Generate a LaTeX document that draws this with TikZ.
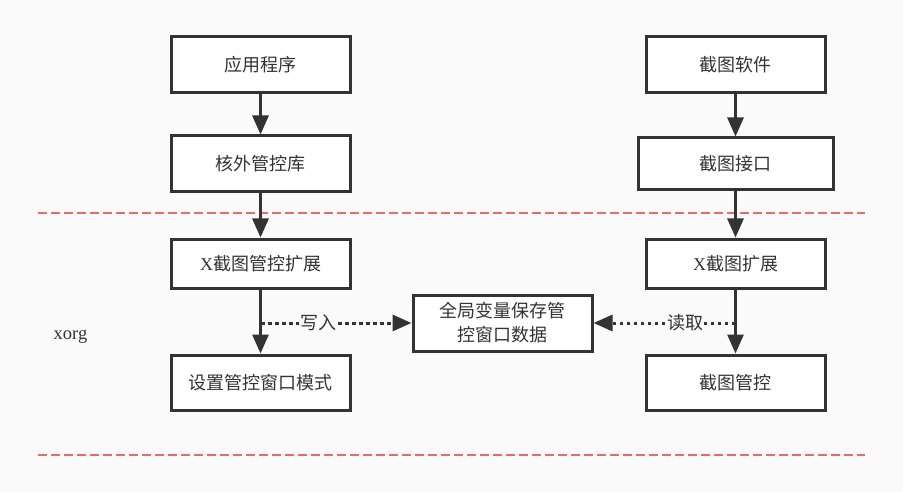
\documentclass[tikz,border=0pt]{standalone}
\usepackage{fontspec}
\setmainfont{Liberation Serif}
\newfontfamily\cjk{Noto Sans CJK SC}
\usetikzlibrary{arrows.meta}
\definecolor{ink}{HTML}{333333}
\definecolor{bg}{HTML}{FAFAFA}
\definecolor{redline}{HTML}{EA6B66}
\tikzset{
  box/.style={draw=ink, line width=3pt, fill=white, inner sep=0pt, anchor=center, font=\fontsize{18}{22}\selectfont\cjk, text=ink, align=center},
  conn/.style={draw=ink, line width=3pt, -{Triangle[length=19pt 0 0,width=16pt 0 0]}},
  dotconn/.style={draw=ink, line width=3pt, dash pattern=on 3.5pt off 3.5pt, -{Triangle[length=19pt 0 0,width=16pt 0 0]}},
  lbl/.style={fill=bg, inner sep=1pt, font=\fontsize{18}{22}\selectfont\cjk, text=ink},
  sep/.style={draw=redline, line width=2.6pt, dash pattern=on 9pt off 4pt},
}
\begin{document}
\begin{tikzpicture}[x=1pt,y=-1pt]
\fill[bg] (0,0) rectangle (903,492);
\useasboundingbox (0,0) rectangle (903,492);
\draw[sep] (38,213) -- (865,213);
\draw[sep] (38,455) -- (865,455);
\node[font=\fontsize{18.5}{22}\selectfont, text=ink] (xorg) at (70.5,337) {xorg};

\node[box, minimum width=179pt, minimum height=56pt] (app) at (260.5,65) {应用程序};
\node[box, minimum width=179pt, minimum height=56pt] (lib) at (260.5,164) {核外管控库};
\node[box, minimum width=179pt, minimum height=49pt] (xext) at (260.5,263.5) {{\fontspec{Liberation Serif}X}截图管控扩展};
\node[box, minimum width=179pt, minimum height=55pt] (mode) at (260.5,382.5) {设置管控窗口模式};

\node[box, minimum width=179pt, minimum height=56pt] (soft) at (735.5,65) {截图软件};
\node[box, minimum width=195pt, minimum height=52pt] (iface) at (735.5,164) {截图接口};
\node[box, minimum width=179pt, minimum height=49pt] (xshot) at (735.5,263.5) {{\fontspec{Liberation Serif}X}截图扩展};
\node[box, minimum width=179pt, minimum height=55pt] (ctrl) at (735.5,382.5) {截图管控};

\node[box, minimum width=179pt, minimum height=56pt, font=\fontsize{18}{24}\selectfont\cjk] (glob) at (502.5,323) {全局变量保存管\\控窗口数据};

\draw[conn] (app) -- (lib);
\draw[conn] (lib) -- (xext);
\draw[conn] (xext) -- (mode);
\draw[conn] (soft) -- (iface);
\draw[conn] (iface) -- (xshot);
\draw[conn] (xshot) -- (ctrl);

\coordinate (wl) at (261,323);
\coordinate (rl) at (735,323);
\draw[dotconn] (wl) -- node[lbl, pos=0.38] {写入} (glob.west);
\draw[dotconn] (rl) -- node[lbl, pos=0.35] {读取} (glob.east);
\end{tikzpicture}
\end{document}
